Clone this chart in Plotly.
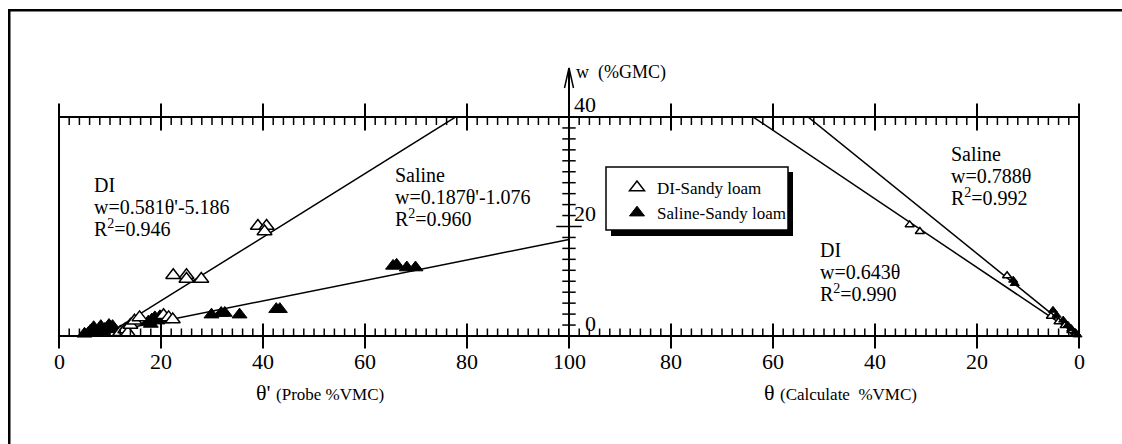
import plotly.graph_objects as go

# ---------------- data ----------------
# Left panel: theta' (probe %VMC) vs w (%GMC)
di_probe_theta = [12.0, 13.0, 13.5, 14.0, 14.8, 15.8, 20.5, 21.5, 22.3,
                  22.4, 25.0, 25.0, 27.9, 39.0, 40.7, 40.3]
di_probe_w = [0.7, 1.2, 0.6, 2.0, 2.8, 3.4, 3.8, 3.4, 3.0,
              11.1, 11.1, 10.4, 10.4, 20.1, 20.1, 19.1]

sal_probe_theta = [5.0, 5.8, 6.2, 6.5, 6.8, 7.0, 7.5, 8.0, 8.2, 8.5, 8.8, 9.0, 9.5, 9.8,
                   10.0, 10.5, 10.8,
                   17.5, 18.0, 18.2, 18.8, 19.3, 19.8, 20.3,
                   29.9, 31.8, 32.5, 35.4, 42.6, 43.3,
                   65.5, 66.2, 68.2, 69.9]
sal_probe_w = [0.4, 0.6, 1.0, 0.5, 1.6, 0.9, 0.6, 1.0, 1.8, 0.8, 0.5, 1.3, 1.2, 2.0,
               1.4, 1.8, 1.3,
               2.6, 2.2, 3.0, 3.4, 2.8, 3.6, 3.0,
               3.9, 4.2, 4.2, 3.9, 4.9, 4.9,
               12.8, 13.0, 12.5, 12.5]

# Right panel: theta (calculated %VMC) vs w (%GMC)
di_calc_theta = [33.2, 31.2, 14.1, 5.5, 4.0, 2.8, 1.5, 0.6]
di_calc_w = [20.3, 19.1, 11.0, 3.6, 2.6, 1.9, 1.0, 0.4]
sal_calc_theta = [12.9, 12.6, 5.1, 4.4, 3.1, 2.2, 1.5, 0.8, 0.3]
sal_calc_w = [10.2, 9.6, 4.7, 3.8, 2.9, 2.0, 1.35, 0.7, 0.2]

# Fitted lines (slope, intercept) and the theta range each is drawn over
di_probe_fit = (0.581, -5.186)
sal_probe_fit = (0.187, -1.076)
di_probe_span = [11.0, 100.0]
sal_probe_span = [10.0, 100.0]
di_calc_fit = (0.626, 0.0)      # drawn slope
sal_calc_fit = (0.753, 0.0)
calc_span = [0.0, 100.0]

# Axis ticks
x_tick_values = [0, 20, 40, 60, 80, 100, 120, 140, 160, 180, 200]
x_tick_labels = ['0', '20', '40', '60', '80', '100', '80', '60', '40', '20', '0']
y_tick_values = [0, 20, 40]
y_tick_labels = ['0', '20', '40']

# text blocks
di_left_text = ["DI", "w=0.581θ'-5.186", "R<sup>2</sup>=0.946"]
sal_left_text = ["Saline", "w=0.187θ'-1.076", "R<sup>2</sup>=0.960"]
sal_right_text = ["Saline", "w=0.788θ", "R<sup>2</sup>=0.992"]
di_right_text = ["DI", "w=0.643θ", "R<sup>2</sup>=0.990"]
legend_names = ["DI-Sandy loam", "Saline-Sandy loam"]

# ---------------- layout geometry ----------------
W, H = 1122, 444
L, R, T, B = 59, 43, 117, 108
PW = W - L - R
PH = H - T - B
X_MAX, Y_MAX = 200, 40
FONT = "Liberation Serif"


def px_x(px):
    return (px - L) / PW


def px_y(py):
    return (H - B - py) / PH


def mirror(theta_list):
    # right panel runs 100 -> 0 on the same axis (position = 200 - theta)
    return [X_MAX - t for t in theta_list]


fig = go.Figure()


def line_pts(fit, span):
    a, b = fit
    return span, [a * s + b for s in span]


line_style = dict(color='black', width=1.5)
lx, ly = line_pts(di_probe_fit, di_probe_span)
fig.add_trace(go.Scatter(x=lx, y=ly, mode='lines', line=line_style, showlegend=False, hoverinfo='skip'))
lx, ly = line_pts(sal_probe_fit, sal_probe_span)
fig.add_trace(go.Scatter(x=lx, y=ly, mode='lines', line=line_style, showlegend=False, hoverinfo='skip'))
lx, ly = line_pts(di_calc_fit, calc_span)
fig.add_trace(go.Scatter(x=mirror(lx), y=ly, mode='lines', line=line_style, showlegend=False, hoverinfo='skip'))
lx, ly = line_pts(sal_calc_fit, calc_span)
fig.add_trace(go.Scatter(x=mirror(lx), y=ly, mode='lines', line=line_style, showlegend=False, hoverinfo='skip'))

open_marker = dict(symbol='triangle-up', color='white', line=dict(color='black', width=1.5))
fill_marker = dict(symbol='triangle-up', color='black', line=dict(color='black', width=1))

fig.add_trace(go.Scatter(x=sal_probe_theta, y=sal_probe_w, mode='markers', cliponaxis=False,
                         marker=dict(size=13, **fill_marker), name=legend_names[1],
                         showlegend=False))
fig.add_trace(go.Scatter(x=di_probe_theta, y=di_probe_w, mode='markers', cliponaxis=False,
                         marker=dict(size=13, **open_marker), name=legend_names[0],
                         legendrank=1, showlegend=True))
fig.add_trace(go.Scatter(x=mirror(di_calc_theta), y=di_calc_w, mode='markers', cliponaxis=False,
                         marker=dict(size=8, **open_marker), showlegend=False))
fig.add_trace(go.Scatter(x=mirror(sal_calc_theta), y=sal_calc_w, mode='markers', cliponaxis=False,
                         marker=dict(size=8, **fill_marker), showlegend=False))
# legend entry for saline (uses left-panel marker size)
fig.add_trace(go.Scatter(x=[None], y=[None], mode='markers',
                         marker=dict(size=13, **fill_marker), name=legend_names[1],
                         legendrank=2, showlegend=True))

shapes = []
LW = 2
TW = 1.5


def seg(x0, y0, x1, y1, w=TW):
    shapes.append(dict(type='line', xref='paper', yref='paper', x0=x0, y0=y0, x1=x1, y1=y1,
                       line=dict(color='black', width=w), layer='above'))


def bar(x0px, y0px, x1px, y1px):
    # solid filled strip given in pixel positions of the page
    shapes.append(dict(type='rect', xref='paper', yref='paper',
                       x0=px_x(x0px), x1=px_x(x1px), y0=px_y(y1px), y1=px_y(y0px),
                       fillcolor='black', line=dict(width=0)))


# frame lines
seg(0, 0, 1, 0, LW)
seg(0, 1, 1, 1, LW)
seg(0, 0, 0, 1, LW)
seg(1, 0, 1, 1, LW)

# x ticks (top and bottom)
for X in range(0, X_MAX + 1, 2):
    xp = X / X_MAX
    if X % 20 == 0:
        shapes.append(dict(type='line', xref='paper', yref='paper', ysizemode='pixel', yanchor=0,
                           x0=xp, x1=xp, y0=-12.5, y1=12.5, line=dict(color='black', width=LW)))
        shapes.append(dict(type='line', xref='paper', yref='paper', ysizemode='pixel', yanchor=1,
                           x0=xp, x1=xp, y0=-13.5, y1=13.5, line=dict(color='black', width=LW)))
    else:
        shapes.append(dict(type='line', xref='paper', yref='paper', ysizemode='pixel', yanchor=0,
                           x0=xp, x1=xp, y0=0, y1=7.5, line=dict(color='black', width=TW)))
        shapes.append(dict(type='line', xref='paper', yref='paper', ysizemode='pixel', yanchor=1,
                           x0=xp, x1=xp, y0=0, y1=-8, line=dict(color='black', width=TW)))

# central w axis with arrow
seg(0.5, 0, 0.5, px_y(68), LW)
shapes.append(dict(type='path', xref='paper', yref='paper', xsizemode='pixel', ysizemode='pixel',
                   xanchor=0.5, yanchor=px_y(68), path='M -4.5,-20 L 0,0 L 4.5,-20',
                   line=dict(color='black', width=TW)))
for wv in range(2, Y_MAX, 2):
    yp = wv / Y_MAX
    half = 12.7 if wv % 20 == 0 else 6.7
    shapes.append(dict(type='line', xref='paper', yref='paper', xsizemode='pixel', xanchor=0.5,
                       x0=-half, x1=half, y0=yp, y1=yp, line=dict(color='black', width=TW)))

# outer border: only the left and top edges fall inside the picture
bar(8, 9, W, 11.5)
bar(8, 9, 10.5, H)

# legend box with shadow
shapes.append(dict(type='rect', xref='paper', yref='paper', x0=px_x(611), x1=px_x(793),
                   y0=px_y(236), y1=px_y(172), fillcolor='black', line=dict(width=0)))
shapes.append(dict(type='rect', xref='paper', yref='paper', x0=px_x(606), x1=px_x(788),
                   y0=px_y(230), y1=px_y(167), fillcolor='white',
                   line=dict(color='black', width=1.5)))

annotations = []


def txt(text, x, y, size=20, xanchor='left'):
    annotations.append(dict(text=text, xref='paper', yref='paper', x=px_x(x), y=px_y(y),
                            xanchor=xanchor, yanchor='middle', showarrow=False,
                            font=dict(family=FONT, size=size, color='black')))


# x tick labels
for v, lab in zip(x_tick_values, x_tick_labels):
    annotations.append(dict(text=lab, x=v, y=0, xref='x', yref='y', xanchor='center',
                            yanchor='middle', yshift=-25, showarrow=False,
                            font=dict(family=FONT, size=22, color='black')))
# y tick labels (to the right of the centre axis, slightly above each tick)
for v, lab in zip(y_tick_values, y_tick_labels):
    annotations.append(dict(text=lab, x=100, y=v, xref='x', yref='y', xanchor='right',
                            yanchor='middle', xshift=29, yshift=13, showarrow=False,
                            font=dict(family=FONT, size=22, color='black')))

# axis titles
txt("θ' <span style='font-size:17px'>(Probe %VMC)</span>", 254, 392, size=22)
txt("θ <span style='font-size:17px'>(Calculate  %VMC)</span>", 762, 392, size=22)
txt("w  (%GMC)", 574, 72, size=18)

# equation blocks
for lines, (x0, ys) in [(di_left_text, (92, [185, 207, 228])),
                        (sal_left_text, (393, [175, 197, 218])),
                        (sal_right_text, (949, [154, 176, 197])),
                        (di_right_text, (818, [250, 272, 293]))]:
    for t, y in zip(lines, ys):
        txt(t, x0, y, size=20)

fig.update_layout(
    width=W, height=H,
    margin=dict(l=L, r=R, t=T, b=B, pad=0),
    paper_bgcolor='white', plot_bgcolor='white',
    xaxis=dict(range=[0, X_MAX], visible=False, fixedrange=True),
    yaxis=dict(range=[0, Y_MAX], visible=False, fixedrange=True),
    shapes=shapes,
    annotations=annotations,
    showlegend=True,
    legend=dict(x=px_x(617), y=px_y(170), xanchor='left', yanchor='top',
                bgcolor='rgba(0,0,0,0)', borderwidth=0,
                font=dict(family=FONT, size=17, color='black'),
                traceorder='normal'),
)

fig.write_html("out.html")
